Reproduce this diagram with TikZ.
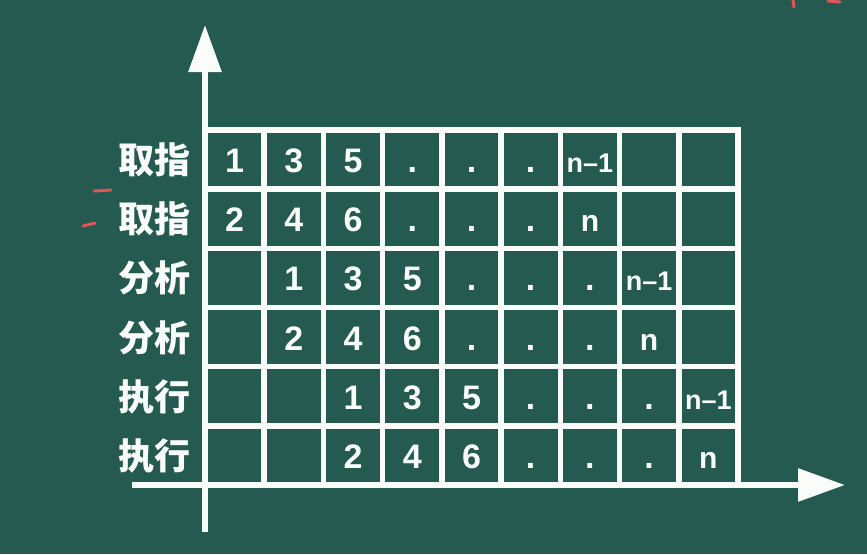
\documentclass[tikz,border=0pt]{standalone}
\usepackage{fontspec}
\newfontfamily\cjk{Noto Sans CJK SC}
\newfontfamily\numf{Liberation Sans}
\usetikzlibrary{arrows.meta}
\definecolor{board}{RGB}{36,90,80}
\definecolor{chalk}{RGB}{250,252,250}
\definecolor{redchalk}{RGB}{225,85,85}
\begin{document}
\begin{tikzpicture}[x=1pt,y=-1pt,
 gridline/.style={chalk,line width=5.5pt,line cap=rect},
 axis/.style={chalk,line width=6pt,-{Triangle[width=32pt,length=47pt]}},
 lab/.style={text=chalk,font=\cjk\bfseries\fontsize{36}{36}\selectfont,anchor=base east,inner sep=0pt},
 num/.style={text=chalk,font=\numf\bfseries\fontsize{34}{34}\selectfont,anchor=base,inner sep=0pt},
 sm/.style={num,font=\numf\bfseries\fontsize{27}{27}\selectfont},
 md/.style={num,font=\numf\bfseries\fontsize{30}{30}\selectfont},
 redmark/.style={redchalk,line width=3pt,line cap=round}]
\fill[board] (0,0) rectangle (867,554);
\useasboundingbox (0,0) rectangle (867,554);
% grid
\foreach \y in {130,189.2,248.3,307.5,366.7,425.8}
  \draw[gridline] (205,\y) -- (738,\y);
\foreach \x in {264.2,323.4,382.7,441.9,501.1,560.3,619.5,678.8,738}
  \draw[gridline] (\x,130) -- (\x,485);
% axes
\coordinate (vbot) at (205,532);
\coordinate (vtop) at (205,25);
\coordinate (hleft) at (132,485);
\coordinate (hright) at (845,485);
\draw[axis] (vbot) -- (vtop);
\draw[axis] (hleft) -- (hright);
% row labels
\foreach \r/\t in {1/取指,2/取指,3/分析,4/分析,5/执行,6/执行}
  \node[lab] (lab\r) at (191,{130+59.17*(\r-0.5)+14}) {\t};
% cell contents
\foreach \r/\c/\t/\s in {
  1/1/1/num,1/2/3/num,1/3/5/num,1/4/./num,1/5/./num,1/6/./num,1/7/n–1/sm,
  2/1/2/num,2/2/4/num,2/3/6/num,2/4/./num,2/5/./num,2/6/./num,2/7/n/md,
  3/2/1/num,3/3/3/num,3/4/5/num,3/5/./num,3/6/./num,3/7/./num,3/8/n–1/sm,
  4/2/2/num,4/3/4/num,4/4/6/num,4/5/./num,4/6/./num,4/7/./num,4/8/n/md,
  5/3/1/num,5/4/3/num,5/5/5/num,5/6/./num,5/7/./num,5/8/./num,5/9/n–1/sm,
  6/3/2/num,6/4/4/num,6/5/6/num,6/6/./num,6/7/./num,6/8/./num,6/9/n/md}
  \node[\s] (c-\r-\c) at ({205+59.22*(\c-0.5)},{130+59.17*(\r-0.5)+13}) {\t};
% red chalk marks
\draw[redmark] (94,191) -- (111,190);
\draw[redmark] (83,226) -- (95,223);
\draw[redmark] (793,0) -- (794,7);
\draw[redmark] (828,1) -- (840,2);
\end{tikzpicture}
\end{document}
